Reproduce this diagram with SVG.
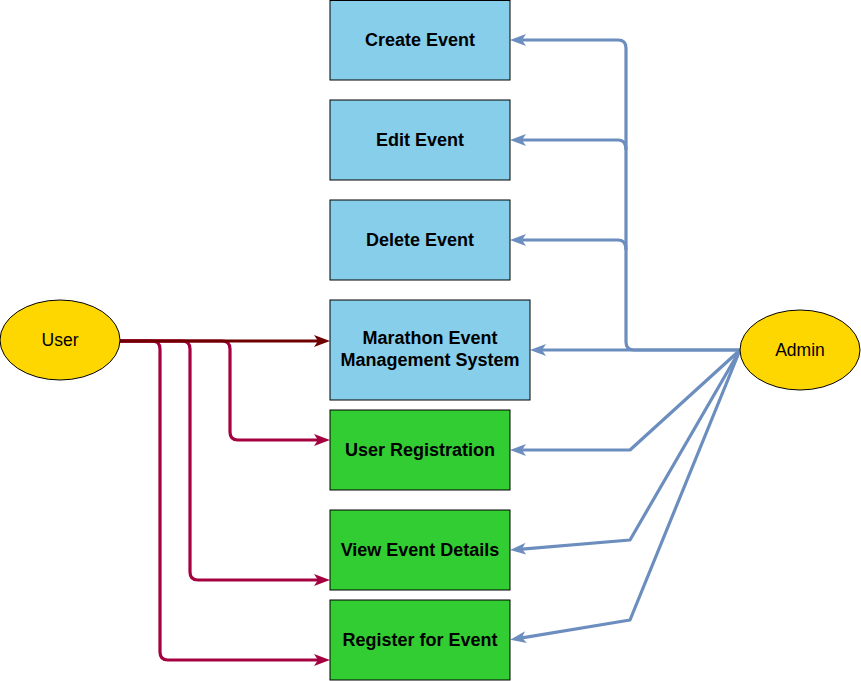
<svg xmlns="http://www.w3.org/2000/svg" width="861" height="681" viewBox="0 0 861 681">
<style>
.box{stroke:#000;stroke-width:1}
.blue{fill:#87CEEB}
.green{fill:#32CD32}
.ell{fill:#FFD700;stroke:#000;stroke-width:1}
.lbl{font-family:"Liberation Sans",Arial,sans-serif;font-size:18px;font-weight:bold;fill:#000;text-anchor:middle}
.elbl{font-family:"Liberation Sans",Arial,sans-serif;font-size:17.5px;fill:#000;text-anchor:middle}
.c{fill:none;stroke-width:3.2;stroke-linejoin:round}
.adm{stroke:#6C8EBF}
.usr{stroke:#A50040}
.usr0{stroke:#6F0000}
</style>
<defs>
<marker id="aB" markerUnits="userSpaceOnUse" viewBox="0 0 16 12" refX="4" refY="6" markerWidth="16" markerHeight="12" orient="auto"><path d="M0,0 L16,6 L0,12 L4,6 Z" fill="#6C8EBF"/></marker>
<marker id="aR" markerUnits="userSpaceOnUse" viewBox="0 0 16 12" refX="4" refY="6" markerWidth="16" markerHeight="12" orient="auto"><path d="M0,0 L16,6 L0,12 L4,6 Z" fill="#A50040"/></marker>
<marker id="aD" markerUnits="userSpaceOnUse" viewBox="0 0 16 12" refX="4" refY="6" markerWidth="16" markerHeight="12" orient="auto"><path d="M0,0 L16,6 L0,12 L4,6 Z" fill="#6F0000"/></marker>
</defs>
<g id="connectors">
<path class="c usr" d="M120,341 H152 Q160,341 160,349 V652 Q160,660 168,660 H318" marker-end="url(#aR)"/>
<path class="c usr" d="M120,341 H182 Q190,341 190,349 V572 Q190,580 198,580 H318" marker-end="url(#aR)"/>
<path class="c usr" d="M120,341 H222 Q230,341 230,349 V432 Q230,440 238,440 H318" marker-end="url(#aR)"/>
<path class="c usr0" d="M120,341 H318" marker-end="url(#aD)"/>
<path class="c adm" d="M740,350 H634 Q626,350 626,342 V48 Q626,40 618,40 H522" marker-end="url(#aB)"/>
<path class="c adm" d="M626,150 Q626,140 618,140 H522" marker-end="url(#aB)"/>
<path class="c adm" d="M626,250 Q626,240 618,240 H522" marker-end="url(#aB)"/>
<path class="c adm" d="M740,350 H542" marker-end="url(#aB)"/>
<path class="c adm" d="M740,350 L630,450 H522" marker-end="url(#aB)"/>
<path class="c adm" d="M740,350 L630,540 L522,549.1" marker-end="url(#aB)"/>
<path class="c adm" d="M740,350 L630,620 L522,637.8" marker-end="url(#aB)"/>
</g>
<g id="create-event"><rect class="box blue" x="330" y="0.5" width="180" height="79.5"/><text class="lbl" x="420" y="46">Create Event</text></g>
<g id="edit-event"><rect class="box blue" x="330" y="100" width="180" height="80"/><text class="lbl" x="420" y="146">Edit Event</text></g>
<g id="delete-event"><rect class="box blue" x="330" y="200" width="180" height="80"/><text class="lbl" x="420" y="246">Delete Event</text></g>
<g id="marathon"><rect class="box blue" x="330" y="300" width="200" height="100"/><text class="lbl" x="430" y="344">Marathon Event</text><text class="lbl" x="430" y="366">Management System</text></g>
<g id="user-registration"><rect class="box green" x="330" y="410" width="180" height="80"/><text class="lbl" x="420" y="456">User Registration</text></g>
<g id="view-event-details"><rect class="box green" x="330" y="510" width="180" height="80"/><text class="lbl" x="420" y="556">View Event Details</text></g>
<g id="register-for-event"><rect class="box green" x="330" y="600" width="180" height="80"/><text class="lbl" x="420" y="646">Register for Event</text></g>
<g id="user"><ellipse class="ell" cx="60" cy="340" rx="60" ry="40"/><text class="elbl" x="60" y="346">User</text></g>
<g id="admin"><ellipse class="ell" cx="800" cy="350" rx="60" ry="40"/><text class="elbl" x="800" y="356">Admin</text></g>
</svg>
